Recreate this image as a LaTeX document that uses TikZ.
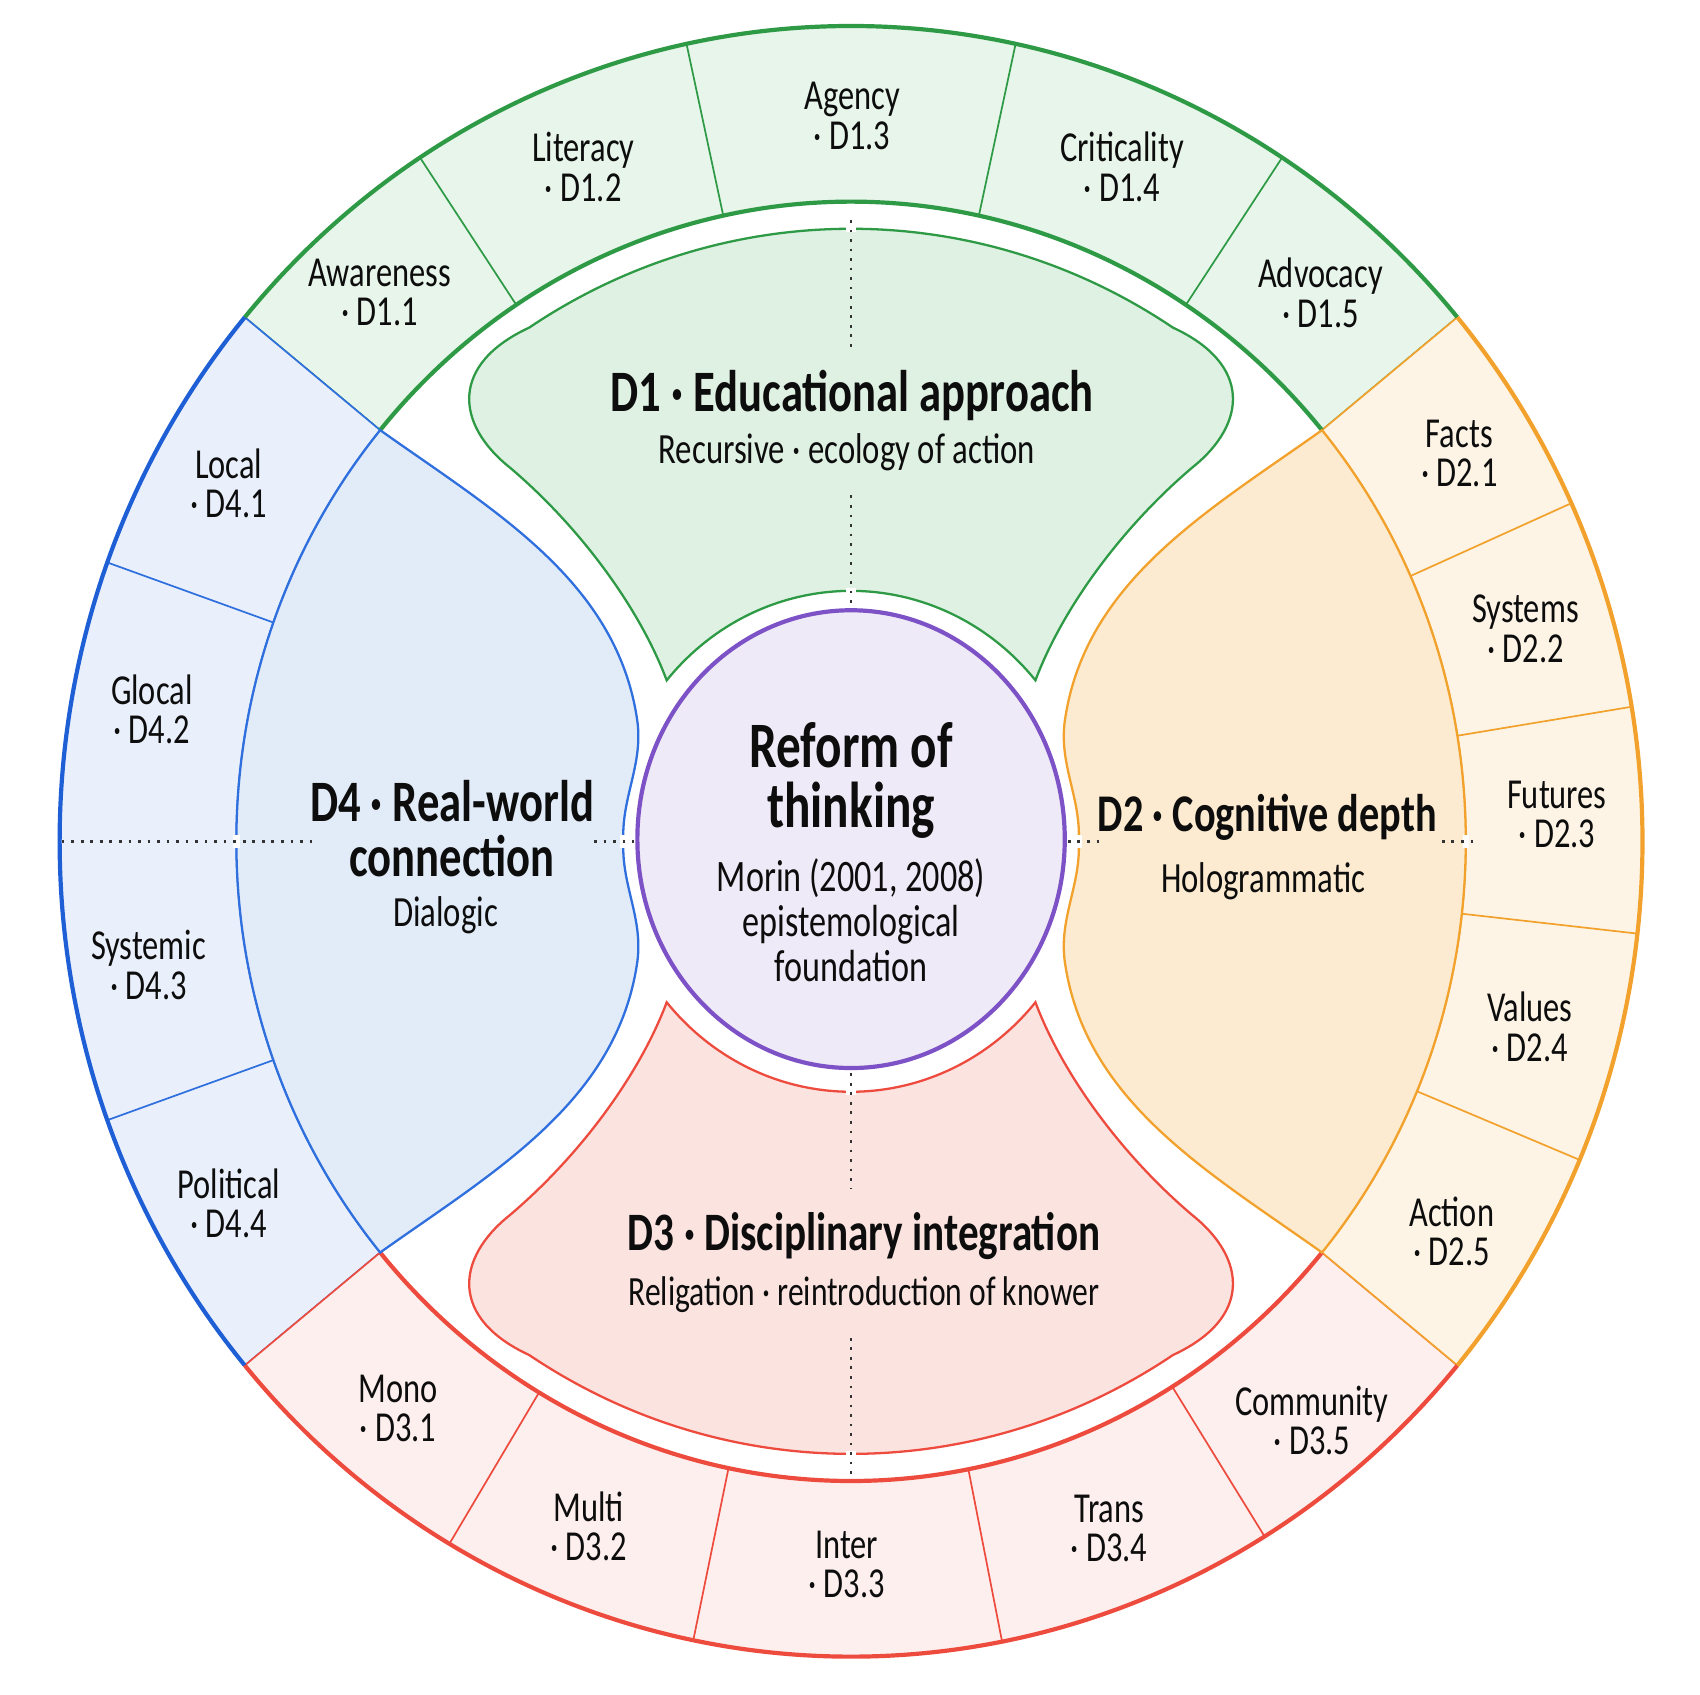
\documentclass[tikz,border=0pt]{standalone}
\usepackage{fontspec}
\setmainfont{Carlito}[FakeStretch=0.76]
\usetikzlibrary{shapes.geometric}

\definecolor{greenline}{HTML}{2E9A46}
\definecolor{greenfill}{HTML}{E7F5EA}
\definecolor{greenlobe}{HTML}{DFF1E3}
\definecolor{blueline}{HTML}{2F6FDE}
\definecolor{bluerim}{HTML}{1F5FD6}
\definecolor{bluefill}{HTML}{E9F0FB}
\definecolor{bluelobe}{HTML}{E2ECF9}
\definecolor{orangeline}{HTML}{F2A22C}
\definecolor{orangefill}{HTML}{FDF4E5}
\definecolor{orangelobe}{HTML}{FCEBD0}
\definecolor{redline}{HTML}{EE4B3F}
\definecolor{redfill}{HTML}{FDEFED}
\definecolor{redlobe}{HTML}{FBE4E0}
\definecolor{purpleline}{HTML}{7D52C6}
\definecolor{purplefill}{HTML}{EFEAF7}

\tikzset{
  sector/.style={line width=0.45pt},
  divider/.style={line width=0.45pt},
  rim/.style={line width=1.1pt},
  lobe/.style={line width=0.6pt},
  axis/.style={line width=0.7pt,dash pattern=on 0.7pt off 1.8pt,black!80},
  gap/.style={fill=white},
  seglabel/.style={align=center,text=black!95,font=\fontsize{11.2}{10.3}\selectfont},
  dimtitle/.style={align=center,text=black!95,font=\bfseries\fontsize{15.4}{14.5}\selectfont},
  dimsub/.style={text=black!95,font=\fontsize{11.3}{12}\selectfont},
}

\begin{document}
\begin{tikzpicture}[x=0.01cm,y=0.01cm]
    \useasboundingbox (-785,-787) rectangle (783,776);

    % outer ring, one sector per dimension
    \filldraw[sector,fill=greenfill,draw=greenline] (140:730 and 752)
        arc[start angle=140,end angle=40,x radius=730,y radius=752] -- (40:567 and 590)
        arc[start angle=40,end angle=140,x radius=567,y radius=590] -- cycle;
    \filldraw[sector,fill=bluefill,draw=blueline] (140:730 and 752)
        arc[start angle=140,end angle=220,x radius=730,y radius=752] -- (220:567 and 590)
        arc[start angle=220,end angle=140,x radius=567,y radius=590] -- cycle;
    \filldraw[sector,fill=redfill,draw=redline] (220:730 and 752)
        arc[start angle=220,end angle=320,x radius=730,y radius=752] -- (320:567 and 590)
        arc[start angle=320,end angle=220,x radius=567,y radius=590] -- cycle;
    \filldraw[sector,fill=orangefill,draw=orangeline] (-40:730 and 752)
        arc[start angle=-40,end angle=40,x radius=730,y radius=752] -- (40:567 and 590)
        arc[start angle=40,end angle=-40,x radius=567,y radius=590] -- cycle;

    \draw[divider,greenline] (123:567 and 590) -- (123:730 and 752) (102:567 and 590) -- (102:730 and 752)
        (78:567 and 590) -- (78:730 and 752) (57:567 and 590) -- (57:730 and 752);
    \draw[divider,blueline] (160:567 and 590) -- (160:730 and 752) (200:567 and 590) -- (200:730 and 752);
    \draw[divider,redline] (239.5:567 and 590) -- (239.5:730 and 752) (258.5:567 and 590) -- (258.5:730 and 752)
        (281:567 and 590) -- (281:730 and 752) (301.5:567 and 590) -- (301.5:730 and 752);
    \draw[divider,orangeline] (24.5:567 and 590) -- (24.5:730 and 752) (9.5:567 and 590) -- (9.5:730 and 752)
        (-6.5:567 and 590) -- (-6.5:730 and 752) (-23:567 and 590) -- (-23:730 and 752);

    \draw[rim,greenline] (140:730 and 752) arc[start angle=140,end angle=40,x radius=730,y radius=752];
    \draw[rim,greenline] (140:567 and 590) arc[start angle=140,end angle=40,x radius=567,y radius=590];
    \draw[rim,bluerim] (140:730 and 752) arc[start angle=140,end angle=220,x radius=730,y radius=752];
    \draw[rim,redline] (220:730 and 752) arc[start angle=220,end angle=320,x radius=730,y radius=752];
    \draw[rim,redline] (220:567 and 590) arc[start angle=220,end angle=320,x radius=567,y radius=590];
    \draw[rim,orangeline] (-40:730 and 752) arc[start angle=-40,end angle=40,x radius=730,y radius=752];

    % inner lobes
    \filldraw[lobe,fill=greenlobe,draw=greenline] (140:222 and 231)
        .. controls (-195,215) and (-250,290) .. (-315,345)
        .. controls (-365,385) and (-370,440) .. (123:545 and 565)
        arc[start angle=123,end angle=57,x radius=545,y radius=565]
        .. controls (370,440) and (365,385) .. (315,345)
        .. controls (250,290) and (195,215) .. (40:222 and 231)
        arc[start angle=40,end angle=140,x radius=222,y radius=231] -- cycle;
    \filldraw[lobe,fill=redlobe,draw=redline] (220:222 and 231)
        .. controls (-195,-215) and (-250,-290) .. (-315,-345)
        .. controls (-365,-385) and (-370,-440) .. (237:545 and 565)
        arc[start angle=237,end angle=303,x radius=545,y radius=565]
        .. controls (370,-440) and (365,-385) .. (315,-345)
        .. controls (250,-290) and (195,-215) .. (320:222 and 231)
        arc[start angle=320,end angle=220,x radius=222,y radius=231] -- cycle;
    \filldraw[lobe,fill=bluelobe,draw=blueline] (140:567 and 590)
        .. controls (-330,305) and (-215,240) .. (-197,110)
        .. controls (-192,70) and (-212,40) .. (-210,0)
        .. controls (-212,-40) and (-192,-70) .. (-197,-110)
        .. controls (-215,-240) and (-330,-305) .. (220:567 and 590)
        arc[start angle=220,end angle=140,x radius=567,y radius=590] -- cycle;
    \filldraw[lobe,fill=orangelobe,draw=orangeline] (40:567 and 590)
        .. controls (330,305) and (215,240) .. (197,110)
        .. controls (192,70) and (212,40) .. (210,0)
        .. controls (212,-40) and (192,-70) .. (197,-110)
        .. controls (215,-240) and (330,-305) .. (-40:567 and 590)
        arc[start angle=-40,end angle=40,x radius=567,y radius=590] -- cycle;

    \node[ellipse,draw=purpleline,line width=1.1pt,fill=purplefill,
        minimum width=3.94cm,minimum height=4.22cm] (hub) at (0,2) {};

    % dotted axes, with breaks where they cross an outline
    \fill[gap] (-5,562) rectangle (5,568);
    \fill[gap] (-5,228) rectangle (5,234);
    \fill[gap] (-5,-234) rectangle (5,-228);
    \fill[gap] (-5,-568) rectangle (5,-562);
    \fill[gap] (-570,-6) rectangle (-564,6);
    \fill[gap] (-213,-6) rectangle (-207,6);
    \fill[gap] (207,-6) rectangle (213,6);
    \fill[gap] (564,-6) rectangle (570,6);
    \draw[axis] (0,573) -- (0,450);
    \draw[axis] (0,319) -- (0,214);
    \draw[axis] (0,-214) -- (0,-321);
    \draw[axis] (0,-458) -- (0,-586);
    \draw[axis] (-728,0) -- (-495,0);
    \draw[axis] (-237,0) -- (-200,0);
    \draw[axis] (200,0) -- (230,0);
    \draw[axis] (545,0) -- (577,0);

    % centre
    \node[align=center,text=black!95,font=\bfseries\fontsize{17}{15.6}\selectfont] (hubtitle) at (0,56) {Reform of\\thinking};
    \node[align=center,text=black!95,font=\fontsize{11.8}{11.8}\selectfont] (hubsub) at (0,-73) {Morin (2001, 2008)\\epistemological\\foundation};

    % dimensions
    \node[dimtitle] (d1) at (1,411) {D1 · Educational approach};
    \node[dimsub] (d1sub) at (-4,359) {Recursive · ecology of action};
    \node[dimtitle,font=\bfseries\fontsize{13.9}{14.5}\selectfont] (d2) at (384,22) {D2 · Cognitive depth};
    \node[dimsub] (d2sub) at (380,-37) {Hologrammatic};
    \node[dimtitle,font=\bfseries\fontsize{14.2}{14.5}\selectfont] (d3) at (12,-364) {D3 · Disciplinary integration};
    \node[dimsub,font=\fontsize{10.9}{12}\selectfont] (d3sub) at (12,-418) {Religation · reintroduction of knower};
    \node[dimtitle] (d4) at (-368,12) {D4 · Real-world\\connection};
    \node[dimsub] (d4sub) at (-374,-68) {Dialogic};

    % sub-dimensions
    \node[seglabel] (aware) at (-435,506) {Awareness\\· D1.1};
    \node[seglabel] (liter) at (-247,622) {Literacy\\· D1.2};
    \node[seglabel] (agency) at (1,669) {Agency\\· D1.3};
    \node[seglabel] (critic) at (250,622) {Criticality\\· D1.4};
    \node[seglabel] (advoc) at (433,506) {Advocacy\\· D1.5};
    \node[seglabel] (facts) at (561,358) {Facts\\· D2.1};
    \node[seglabel] (systems) at (622,196) {Systems\\· D2.2};
    \node[seglabel] (futures) at (651,25) {Futures\\· D2.3};
    \node[seglabel] (values) at (626,-171) {Values\\· D2.4};
    \node[seglabel] (action) at (554,-360) {Action\\· D2.5};
    \node[seglabel] (mono) at (-418,-523) {Mono\\· D3.1};
    \node[seglabel] (multi) at (-242,-632) {Multi\\· D3.2};
    \node[seglabel] (inter) at (-4,-667) {Inter\\· D3.3};
    \node[seglabel] (trans) at (238,-634) {Trans\\· D3.4};
    \node[seglabel] (commun) at (425,-534) {Community\\· D3.5};
    \node[seglabel] (local) at (-574,330) {Local\\· D4.1};
    \node[seglabel] (glocal) at (-645,122) {Glocal\\· D4.2};
    \node[seglabel] (systemic) at (-648,-114) {Systemic\\· D4.3};
    \node[seglabel] (politic) at (-574,-334) {Political\\· D4.4};
\end{tikzpicture}
\end{document}
